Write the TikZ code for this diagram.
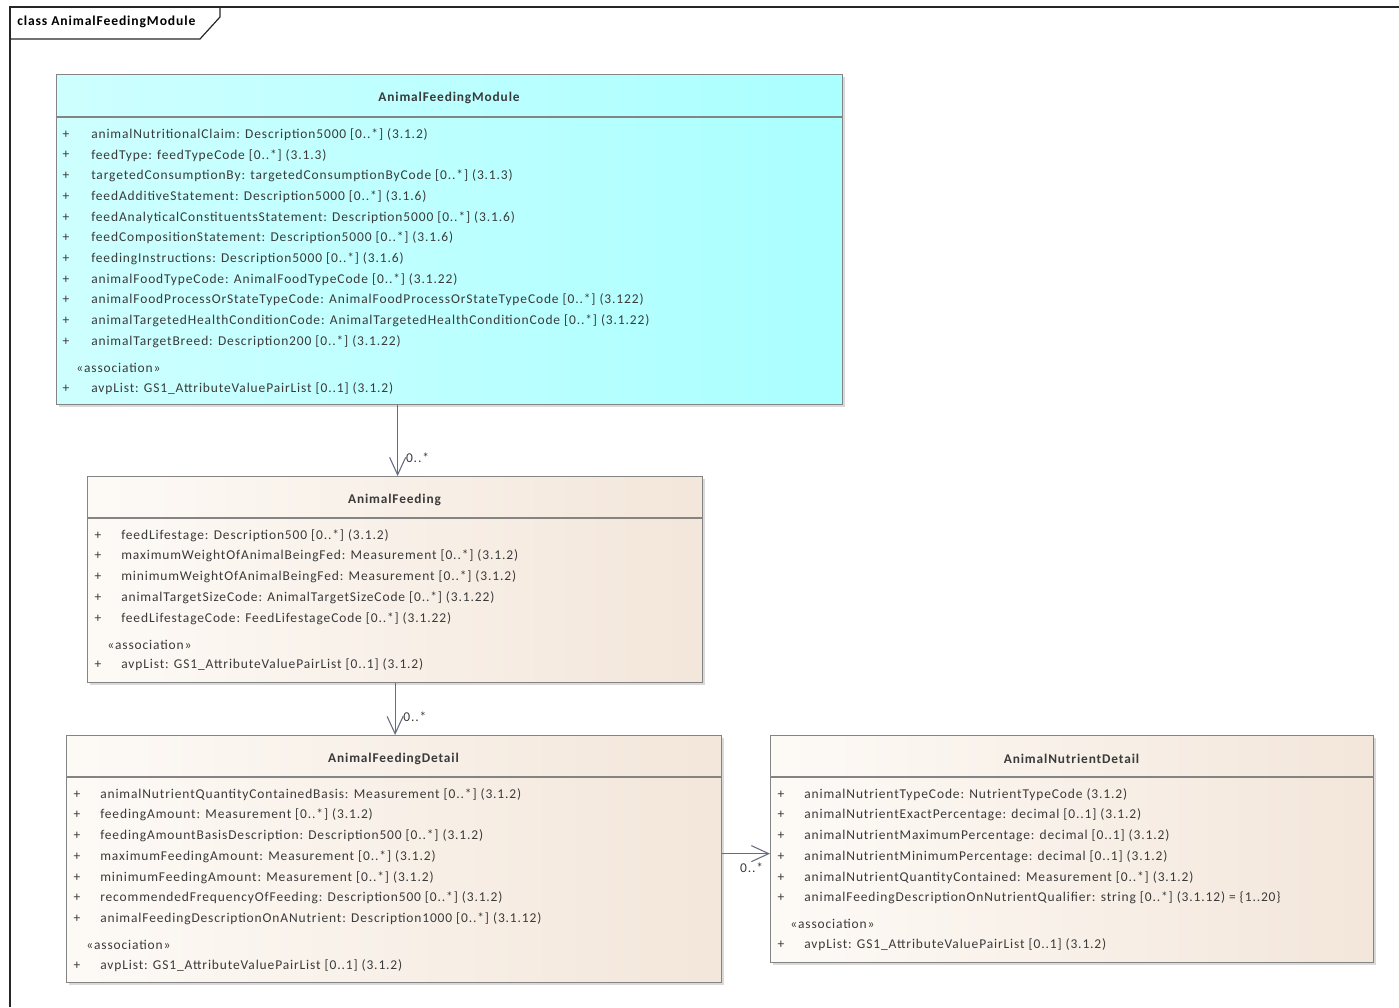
\documentclass[tikz,border=0pt]{standalone}
\usepackage{fontspec}
\setmainfont{Carlito}[LetterSpace=6.5]
\usetikzlibrary{arrows.meta,positioning,shadows}

\definecolor{modcyanL}{RGB}{206,255,255}
\definecolor{modcyanR}{RGB}{170,255,255}
\definecolor{tanL}{RGB}{253,250,246}
\definecolor{tanR}{RGB}{243,230,218}
\definecolor{boxline}{RGB}{132,132,132}
\definecolor{linkblue}{RGB}{100,108,130}
\definecolor{txtgray}{RGB}{58,58,58}

\tikzset{
  classbox/.style={draw=boxline, line width=0.9pt, anchor=north west, inner sep=0pt,
    drop shadow={shadow xshift=2pt, shadow yshift=-2pt, opacity=0.3}},
  modulefill/.style={left color=modcyanL, right color=modcyanR},
  tanfill/.style={left color=tanL, right color=tanR},
  sepline/.style={draw=boxline, line width=0.9pt},
  classname/.style={font=\fontsize{10}{12}\selectfont\bfseries, text=txtgray},
  attr/.style={anchor=west, inner sep=0pt, text=txtgray},
  plussign/.style={inner sep=0pt, text=txtgray},
  assoc/.style={draw=linkblue, line width=0.8pt, -{Straight Barb[length=13pt,width=12pt]}},
  mult/.style={inner sep=0pt, text=txtgray}
}

\begin{document}
\begin{tikzpicture}[x=0.75pt,y=-0.75pt,
    every node/.style={font=\fontsize{10.1}{12}\selectfont}]
  \useasboundingbox (0,0) rectangle (1399,1007);

  % diagram frame
  \draw[black!85,line width=1.2pt] (10,1007) -- (10,7) -- (1399,7);
  \draw[black!85,line width=0.9pt] (10,39) -- (200,39) -- (220,17) -- (220,7);
  \node[anchor=west,inner sep=0pt,font=\fontsize{10.2}{12}\selectfont\bfseries]
    (frame-title) at (17,22) {class AnimalFeedingModule};

  % AnimalFeedingModule
  \node[classbox, modulefill, minimum width=589.5pt, minimum height=247.5pt]
    (afm) at (56,74) {};
  \draw[sepline] (afm.north west |- 0,117) -- (afm.north east |- 0,117);
  \node[classname] (afm-name) at (449,98) {AnimalFeedingModule};
  \foreach \t [count=\i] in {
      {animalNutritionalClaim: Description5000 [0..*] (3.1.2)},
      {feedType: feedTypeCode [0..*] (3.1.3)},
      {targetedConsumptionBy: targetedConsumptionByCode [0..*] (3.1.3)},
      {feedAdditiveStatement: Description5000 [0..*] (3.1.6)},
      {feedAnalyticalConstituentsStatement: Description5000 [0..*] (3.1.6)},
      {feedCompositionStatement: Description5000 [0..*] (3.1.6)},
      {feedingInstructions: Description5000 [0..*] (3.1.6)},
      {animalFoodTypeCode: AnimalFoodTypeCode [0..*] (3.1.22)},
      {animalFoodProcessOrStateTypeCode: AnimalFoodProcessOrStateTypeCode [0..*] (3.122)},
      {animalTargetedHealthConditionCode: AnimalTargetedHealthConditionCode [0..*] (3.1.22)},
      {animalTargetBreed: Description200 [0..*] (3.1.22)}} {
    \node[plussign] (afm-p\i) at (66,{134.5+20.7*(\i-1)}) {+};
    \node[attr] (afm-a\i) at (91,{134.5+20.7*(\i-1)}) {\t};
  }
  \node[attr] (afm-st) at (76,368) {«association»};
  \node[plussign] (afm-pv) at (66,389) {+};
  \node[attr] (afm-avp) at (91,389) {avpList: GS1\_AttributeValuePairList [0..1] (3.1.2)};

  % AnimalFeeding
  \node[classbox, tanfill, minimum width=461.25pt, minimum height=154.5pt]
    (af) at (87,476) {};
  \draw[sepline] (af.north west |- 0,518) -- (af.north east |- 0,518);
  \node[classname] (af-name) at (394.5,500) {AnimalFeeding};
  \foreach \t [count=\i] in {
      {feedLifestage: Description500 [0..*] (3.1.2)},
      {maximumWeightOfAnimalBeingFed: Measurement [0..*] (3.1.2)},
      {minimumWeightOfAnimalBeingFed: Measurement [0..*] (3.1.2)},
      {animalTargetSizeCode: AnimalTargetSizeCode [0..*] (3.1.22)},
      {feedLifestageCode: FeedLifestageCode [0..*] (3.1.22)}} {
    \node[plussign] (af-p\i) at (98,{535.5+20.7*(\i-1)}) {+};
    \node[attr] (af-a\i) at (121,{535.5+20.7*(\i-1)}) {\t};
  }
  \node[attr] (af-st) at (107,645) {«association»};
  \node[plussign] (af-pv) at (98,665) {+};
  \node[attr] (af-avp) at (121,665) {avpList: GS1\_AttributeValuePairList [0..1] (3.1.2)};

  % AnimalFeedingDetail
  \node[classbox, tanfill, minimum width=491.25pt, minimum height=185.25pt]
    (afd) at (66,735) {};
  \draw[sepline] (afd.north west |- 0,777) -- (afd.north east |- 0,777);
  \node[classname] (afd-name) at (393.5,759) {AnimalFeedingDetail};
  \foreach \t [count=\i] in {
      {animalNutrientQuantityContainedBasis: Measurement [0..*] (3.1.2)},
      {feedingAmount: Measurement [0..*] (3.1.2)},
      {feedingAmountBasisDescription: Description500 [0..*] (3.1.2)},
      {maximumFeedingAmount: Measurement [0..*] (3.1.2)},
      {minimumFeedingAmount: Measurement [0..*] (3.1.2)},
      {recommendedFrequencyOfFeeding: Description500 [0..*] (3.1.2)},
      {animalFeedingDescriptionOnANutrient: Description1000 [0..*] (3.1.12)}} {
    \node[plussign] (afd-p\i) at (77,{794.5+20.7*(\i-1)}) {+};
    \node[attr] (afd-a\i) at (100,{794.5+20.7*(\i-1)}) {\t};
  }
  \node[attr] (afd-st) at (86,945) {«association»};
  \node[plussign] (afd-pv) at (77,966) {+};
  \node[attr] (afd-avp) at (100,966) {avpList: GS1\_AttributeValuePairList [0..1] (3.1.2)};

  % AnimalNutrientDetail
  \node[classbox, tanfill, minimum width=452.25pt, minimum height=170.25pt]
    (and) at (770,735) {};
  \draw[sepline] (and.north west |- 0,777) -- (and.north east |- 0,777);
  \node[classname] (and-name) at (1071.5,759) {AnimalNutrientDetail};
  \foreach \t [count=\i] in {
      {animalNutrientTypeCode: NutrientTypeCode (3.1.2)},
      {animalNutrientExactPercentage: decimal [0..1] (3.1.2)},
      {animalNutrientMaximumPercentage: decimal [0..1] (3.1.2)},
      {animalNutrientMinimumPercentage: decimal [0..1] (3.1.2)},
      {animalNutrientQuantityContained: Measurement [0..*] (3.1.2)},
      {animalFeedingDescriptionOnNutrientQualifier: string [0..*] (3.1.12) = \{1..20\}}} {
    \node[plussign] (and-p\i) at (781,{794.5+20.7*(\i-1)}) {+};
    \node[attr] (and-a\i) at (804,{794.5+20.7*(\i-1)}) {\t};
  }
  \node[attr] (and-st) at (790,924) {«association»};
  \node[plussign] (and-pv) at (781,945) {+};
  \node[attr] (and-avp) at (804,945) {avpList: GS1\_AttributeValuePairList [0..1] (3.1.2)};

  % associations
  \coordinate (af-in) at ([xshift=1.9pt]afm.south -| af.north);
  \draw[assoc] (af-in) -- (af-in |- af.north);
  \node[mult, anchor=south west] (m-af) at ([xshift=8pt,yshift=10pt]af.north) {0..*};

  \coordinate (afd-in) at (af.south |- afd.north);
  \draw[assoc] (af.south) -- (afd-in);
  \node[mult, anchor=south west] (m-afd) at ([xshift=6pt,yshift=10pt]afd-in) {0..*};

  \coordinate (and-in) at ([yshift=-3.4pt]and.west);
  \draw[assoc] (and-in -| afd.east) -- (and-in);
  \node[mult, anchor=north east] (m-and) at ([xshift=-5pt,yshift=-7pt]and-in) {0..*};
\end{tikzpicture}
\end{document}
